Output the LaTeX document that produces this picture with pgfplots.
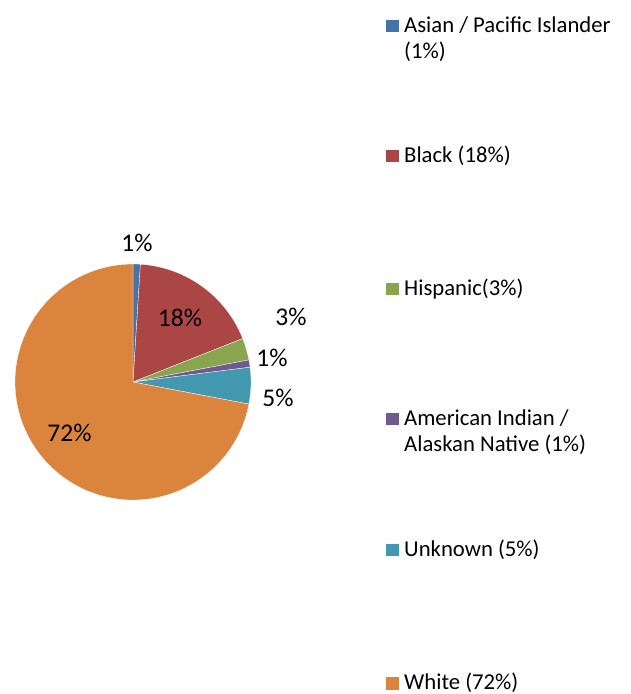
\documentclass[border=0pt]{standalone}
\usepackage{pgfplots}
\pgfplotsset{compat=1.18}
\usepackage{pgfplotstable}
\usepackage{fontspec}
\setmainfont{Carlito}

\definecolor{sl0}{HTML}{4572A7}
\definecolor{sl1}{HTML}{AA4643}
\definecolor{sl2}{HTML}{89A54E}
\definecolor{sl3}{HTML}{71588F}
\definecolor{sl4}{HTML}{4198AF}
\definecolor{sl5}{HTML}{DB843D}

% share of each group, percent (clockwise from 12 o'clock)
\pgfplotstableread{
value
1
18
3
1
5
72
}\piedata

% build the slice drawing commands with expanded angles
\def\piecmds{}
\def\cumangle{90}
\pgfplotstablegetrowsof{\piedata}
\pgfmathtruncatemacro\nrows{\pgfplotsretval-1}
\foreach \i in {0,...,\nrows}{%
  \pgfplotstablegetelem{\i}{value}\of\piedata
  \pgfmathsetmacro\endang{\cumangle-3.6*\pgfplotsretval}%
  \xdef\piecmds{\unexpanded\expandafter{\piecmds}%
    \noexpand\fill[sl\i,draw=white,line width=0.3pt] (axis cs:133,312) -- ++(\cumangle:118bp)
    arc[start angle=\cumangle,end angle=\endang,radius=118bp] -- cycle;}%
  \xdef\cumangle{\endang}%
}

\newcommand\lgfont{\fontsize{22.7bp}{26bp}\selectfont}
\newcommand\pcfont{\fontsize{25.5bp}{30bp}\selectfont}

\begin{document}
\begin{tikzpicture}
\path (0,0) rectangle (631bp,694bp);
\begin{axis}[
  x=1bp, y=1bp,
  xmin=0, xmax=631, ymin=0, ymax=694,
  hide axis, clip=false,
  anchor=south west, at={(0,0)},
  scale only axis,
]
\piecmds
% data labels
\begin{scope}[every node/.style={inner sep=0pt, anchor=base, font=\pcfont}]
\node at (axis cs:137,442) {1\%};
\node at (axis cs:180,367) {18\%};
\node at (axis cs:291,368) {3\%};
\node at (axis cs:272,327) {1\%};
\node at (axis cs:278,287) {5\%};
\node at (axis cs:69.5,252) {72\%};
\end{scope}
% legend
\begin{scope}[every node/.style={inner sep=0pt, anchor=base west, font=\lgfont}]
\fill[sl0] (axis cs:386,661.5) rectangle (axis cs:398.5,673.5);
\node at (axis cs:404,661.5) {Asian / Pacific Islander};
\node at (axis cs:404,635.5) {(1\%)};
\fill[sl1] (axis cs:386,531.5) rectangle (axis cs:398.5,543.5);
\node at (axis cs:404,531.5) {Black (18\%)};
\fill[sl2] (axis cs:386,398.5) rectangle (axis cs:398.5,410.5);
\node at (axis cs:404,398.5) {Hispanic(3\%)};
\fill[sl3] (axis cs:386,268.5) rectangle (axis cs:398.5,280.5);
\node at (axis cs:404,268.5) {American Indian /};
\node at (axis cs:404,242.5) {Alaskan Native (1\%)};
\fill[sl4] (axis cs:386,137.5) rectangle (axis cs:398.5,149.5);
\node at (axis cs:404,137.5) {Unknown (5\%)};
\fill[sl5] (axis cs:386,4.5) rectangle (axis cs:398.5,16.5);
\node at (axis cs:404,4.5) {White (72\%)};
\end{scope}
\end{axis}
\end{tikzpicture}
\end{document}
